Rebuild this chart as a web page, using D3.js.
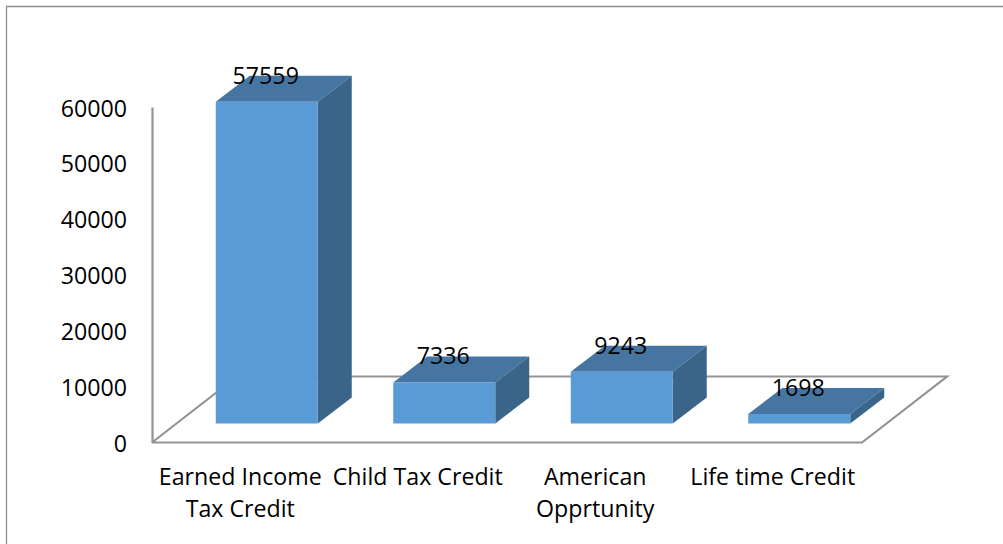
<!DOCTYPE html>
<html>
<head>
<meta charset="utf-8">
<script src="https://cdn.jsdelivr.net/npm/d3@7"></script>
<style>
  html, body { margin: 0; padding: 0; background: #fff; overflow: hidden; }
  svg { display: block; }
  text { font-family: "Open Sans", sans-serif; font-size: 23.2px; fill: #000; }
</style>
</head>
<body>
<script>
var categories = ["Earned Income Tax Credit", "Child Tax Credit", "American Opprtunity", "Life time Credit"];
var categoryLines = [["Earned Income", "Tax Credit"], ["Child Tax Credit"], ["American", "Opprtunity"], ["Life time Credit"]];
var values = [57559, 7336, 9243, 1698];
var yTicks = [0, 10000, 20000, 30000, 40000, 50000, 60000];

function main() {
    var width = 1003;
    var height = 544;
    var axisGray = "#939393";

    var svg = d3.select("body")
                .append("svg")
                .attr("width", width)
                .attr("height", height);

    // outer chart frame, only top and left are in the picture
    svg.append("path")
       .attr("d", "M6.5,544V6.5H1003")
       .attr("fill", "none")
       .attr("stroke", "#8c8c8c")
       .attr("stroke-width", 1.3);

    var x = d3.scaleBand().domain(categories).range([152, 862]);
    var y = d3.scaleLinear().domain([0, 60000]).range([442.5, 107]);

    // depth of the floor and of the bars
    var floorDx = 85, floorDy = -66;
    var barDx = 34, barDy = -26;
    var gapDx = 26, gapDy = -19;
    var barWidth = 102;

    svg.append("path")
       .attr("d", d3.line()([
            [x.range()[0], y(0)],
            [x.range()[0] + floorDx, y(0) + floorDy],
            [x.range()[1] + floorDx, y(0) + floorDy],
            [x.range()[1], y(0)],
            [x.range()[0], y(0)]
       ]))
       .attr("fill", "none")
       .attr("stroke", axisGray)
       .attr("stroke-width", 2.2);

    var yAxis = d3.axisLeft(y)
                  .tickValues(yTicks)
                  .tickFormat(d3.format("d"))
                  .tickSize(0)
                  .tickPadding(25);

    var axisG = svg.append("g")
       .attr("transform", "translate(152,0)")
       .call(yAxis);
    axisG.select(".domain").attr("stroke", axisGray).attr("stroke-width", 2.2);
    axisG.selectAll("text")
         .style("font-size", "23.2px")
         .style("font-family", "'Open Sans', sans-serif")
         .attr("dy", "0.39em");

    var bars = svg.selectAll(".bar")
       .data(values)
       .enter()
       .append("g")
       .attr("class", "bar");

    function left(d, i) { return x(categories[i]) + (x.bandwidth() - barWidth) / 2 + gapDx; }
    function top(d) { return y(d) + gapDy; }
    var base = y(0) + gapDy;

    // top face
    bars.append("path")
        .attr("fill", "#4675a2")
        .attr("d", function(d, i) {
            var l = left(d, i), t = top(d);
            return d3.line()([[l, t], [l + barDx, t + barDy], [l + barWidth + barDx, t + barDy], [l + barWidth, t]]) + "Z";
        });

    // side face
    bars.append("path")
        .attr("fill", "#3a6589")
        .attr("d", function(d, i) {
            var l = left(d, i) + barWidth, t = top(d);
            return d3.line()([[l, t], [l + barDx, t + barDy], [l + barDx, base + barDy], [l, base]]) + "Z";
        });

    // front face
    bars.append("rect")
        .attr("fill", "#5b9bd5")
        .attr("x", left)
        .attr("y", top)
        .attr("width", barWidth)
        .attr("height", function(d) { return base - top(d); });

    // data labels
    svg.selectAll(".value")
       .data(values)
       .enter()
       .append("text")
       .attr("class", "value")
       .attr("text-anchor", "middle")
       .attr("dominant-baseline", "central")
       .attr("x", function(d, i) { return left(d, i) + barWidth / 2 - 1; })
       .attr("y", function(d) { return top(d) - 27; })
       .text(function(d) { return d; });

    // category labels
    var catLabels = svg.selectAll(".cat")
       .data(categories)
       .enter()
       .append("text")
       .attr("class", "cat")
       .attr("text-anchor", "middle");

    catLabels.selectAll("tspan")
       .data(function(d, i) { return categoryLines[i].map(function(s) { return { cat: d, line: s }; }); })
       .enter()
       .append("tspan")
       .attr("x", function(d) { return x(d.cat) + x.bandwidth() / 2 - 0.5; })
       .attr("y", function(d, i) { return 485 + i * 32; })
       .text(function(d) { return d.line; });
}
main();
</script>
</body>
</html>
